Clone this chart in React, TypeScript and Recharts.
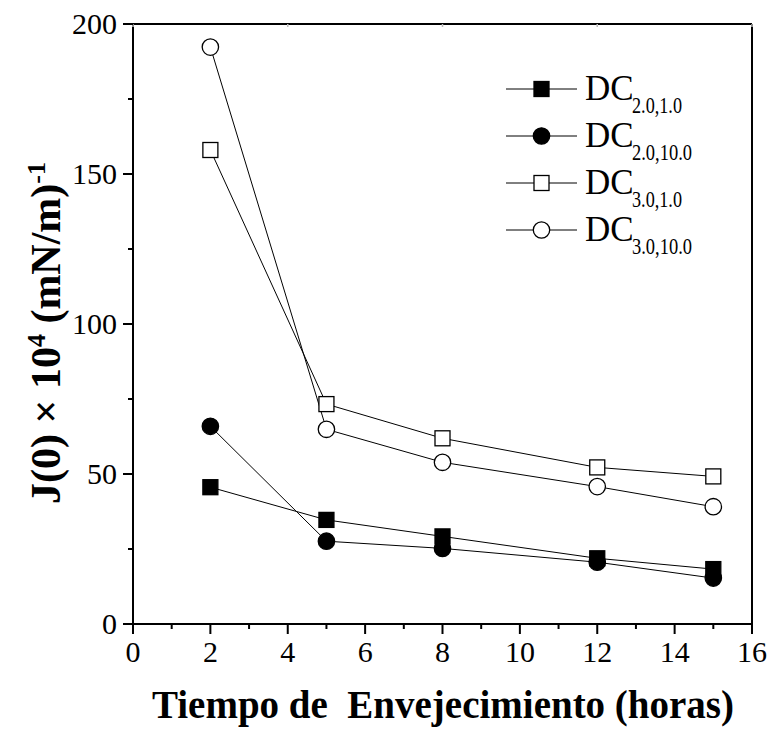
import { LineChart, Line, XAxis, YAxis, Legend } from 'recharts';

const hours = [2, 5, 8, 12, 15];
const dc20_10 = [45.6, 34.7, 29.2, 21.9, 18.3];
const dc20_100 = [65.9, 27.6, 25.2, 20.6, 15.3];
const dc30_10 = [158, 73.3, 61.9, 52.2, 49.2];
const dc30_100 = [192.3, 64.9, 53.9, 45.8, 39.1];

const xTicks = [0, 1, 2, 3, 4, 5, 6, 7, 8, 9, 10, 11, 12, 13, 14, 15, 16];
const yTicks = [0, 25, 50, 75, 100, 125, 150, 175, 200];

const series = [
  { key: 'c', sub: '3.0,1.0', shape: 'square', filled: false, values: dc30_10 },
  { key: 'd', sub: '3.0,10.0', shape: 'circle', filled: false, values: dc30_100 },
  { key: 'a', sub: '2.0,1.0', shape: 'square', filled: true, values: dc20_10 },
  { key: 'b', sub: '2.0,10.0', shape: 'circle', filled: true, values: dc20_100 },
];
const legendOrder = ['a', 'b', 'c', 'd'];

const data = hours.map((h, i) => {
  const row: Record<string, number> = { x: h };
  series.forEach(s => { row[s.key] = s.values[i]; });
  return row;
});

const serif = { fontFamily: 'Liberation Serif, serif' };

function Marker({ cx, cy, shape, filled }: { cx: number; cy: number; shape: string; filled: boolean }) {
  const fill = filled ? '#000' : '#fff';
  if (shape === 'square') {
    return <rect x={cx - 7.5} y={cy - 7.5} width={15} height={15} fill={fill} stroke="#000" strokeWidth={1.3} />;
  }
  return <circle cx={cx} cy={cy} r={8.2} fill={fill} stroke="#000" strokeWidth={1.3} />;
}

const BottomTick = (props: any) => {
  const { x, y, payload } = props;
  const major = payload.value % 2 === 0;
  return (
    <g>
      <line x1={x} y1={y} x2={x} y2={y + (major ? 10 : 5)} stroke="#000" strokeWidth={2} />
      {major && (
        <text x={x} y={y + 38} textAnchor="middle" style={serif} fontSize={30} fill="#000">
          {payload.value}
        </text>
      )}
    </g>
  );
};

const LeftTick = (props: any) => {
  const { x, y, payload } = props;
  const major = payload.value % 50 === 0;
  return (
    <g>
      <line x1={x - (major ? 10 : 5)} y1={y} x2={x} y2={y} stroke="#000" strokeWidth={2} />
      {major && (
        <text x={x - 16} y={y + 10} textAnchor="end" style={serif} fontSize={30} fill="#000">
          {payload.value}
        </text>
      )}
    </g>
  );
};

const TopTick = (props: any) => {
  const { x, y } = props;
  return <line x1={x} y1={y} x2={x} y2={y + 3} stroke="#bbb" strokeWidth={1.5} />;
};

const RightTick = (props: any) => {
  const { x, y } = props;
  return <line x1={x} y1={y} x2={x + 4} y2={y} stroke="#000" strokeWidth={2} />;
};

const XTitle = () => (
  <text x={443} y={718} textAnchor="middle" style={{ ...serif, whiteSpace: 'pre' }} fontWeight="bold" fontSize={39} fill="#000">
    {'Tiempo de  Envejecimiento (horas)'}
  </text>
);

const YTitle = () => (
  <text transform="translate(60,333) rotate(-90)" textAnchor="middle" style={serif} fontWeight="bold" fontSize={42} fill="#000">
    J(0) × 10<tspan dy={-15} fontSize={26}>4</tspan>
    <tspan dy={15}> (mN/m)</tspan>
    <tspan dy={-15} fontSize={26}>-1</tspan>
  </text>
);

const LegendBox = () => (
  <svg width={769} height={260} style={{ display: 'block' }}>
    {legendOrder.map((k, i) => {
      const s = series.find(t => t.key === k)!;
      const cy = 89 + i * 47;
      return (
        <g key={k}>
          <line x1={506} y1={cy} x2={577} y2={cy} stroke="#000" strokeWidth={1} />
          <Marker cx={541.5} cy={cy} shape={s.shape} filled={s.filled} />
          <text x={585} y={cy + 11} style={serif} fontSize={35} fill="#000">DC</text>
          <text
            x={632}
            y={cy + 24}
            style={serif}
            fontSize={23}
            fill="#000"
            textLength={s.sub.length > 7 ? 60 : 50}
            lengthAdjust="spacingAndGlyphs"
          >
            {s.sub}
          </text>
        </g>
      );
    })}
  </svg>
);

export default function App() {
  return (
    <div style={{ position: 'absolute', left: 0, top: 0, background: '#fff' }}>
      <LineChart width={769} height={730} data={data} margin={{ top: 0, right: 0, bottom: 0, left: 0 }}>
        <XAxis
          dataKey="x"
          type="number"
          domain={[0, 16]}
          ticks={xTicks}
          interval={0}
          height={106}
          tickSize={0}
          tickMargin={0}
          tick={BottomTick}
          axisLine={{ stroke: '#000', strokeWidth: 2 }}
          label={{ content: XTitle }}
        />
        <XAxis
          xAxisId="top"
          orientation="top"
          type="number"
          domain={[0, 16]}
          ticks={xTicks}
          interval={0}
          height={24}
          tickSize={0}
          tickMargin={0}
          tick={TopTick}
          axisLine={{ stroke: '#000', strokeWidth: 2 }}
        />
        <YAxis
          type="number"
          domain={[0, 200]}
          ticks={yTicks}
          interval={0}
          width={133}
          tickSize={0}
          tickMargin={0}
          tick={LeftTick}
          axisLine={{ stroke: '#000', strokeWidth: 2 }}
          label={{ content: YTitle }}
        />
        <YAxis
          yAxisId="right"
          orientation="right"
          type="number"
          domain={[0, 200]}
          ticks={yTicks}
          interval={0}
          width={17}
          tickSize={0}
          tickMargin={0}
          tick={RightTick}
          axisLine={{ stroke: '#000', strokeWidth: 2 }}
        />
        <Legend
          layout="vertical"
          align="center"
          verticalAlign="middle"
          wrapperStyle={{ left: 0, top: 0, width: 769, height: 260 }}
          content={LegendBox}
        />
        {series.map(s => (
          <Line
            key={s.key}
            dataKey={s.key}
            type="linear"
            stroke="#000"
            strokeWidth={1}
            isAnimationActive={false}
            dot={(p: any) => <Marker key={`${s.key}-${p.index}`} cx={p.cx} cy={p.cy} shape={s.shape} filled={s.filled} />}
            activeDot={false}
          />
        ))}
      </LineChart>
    </div>
  );
}
